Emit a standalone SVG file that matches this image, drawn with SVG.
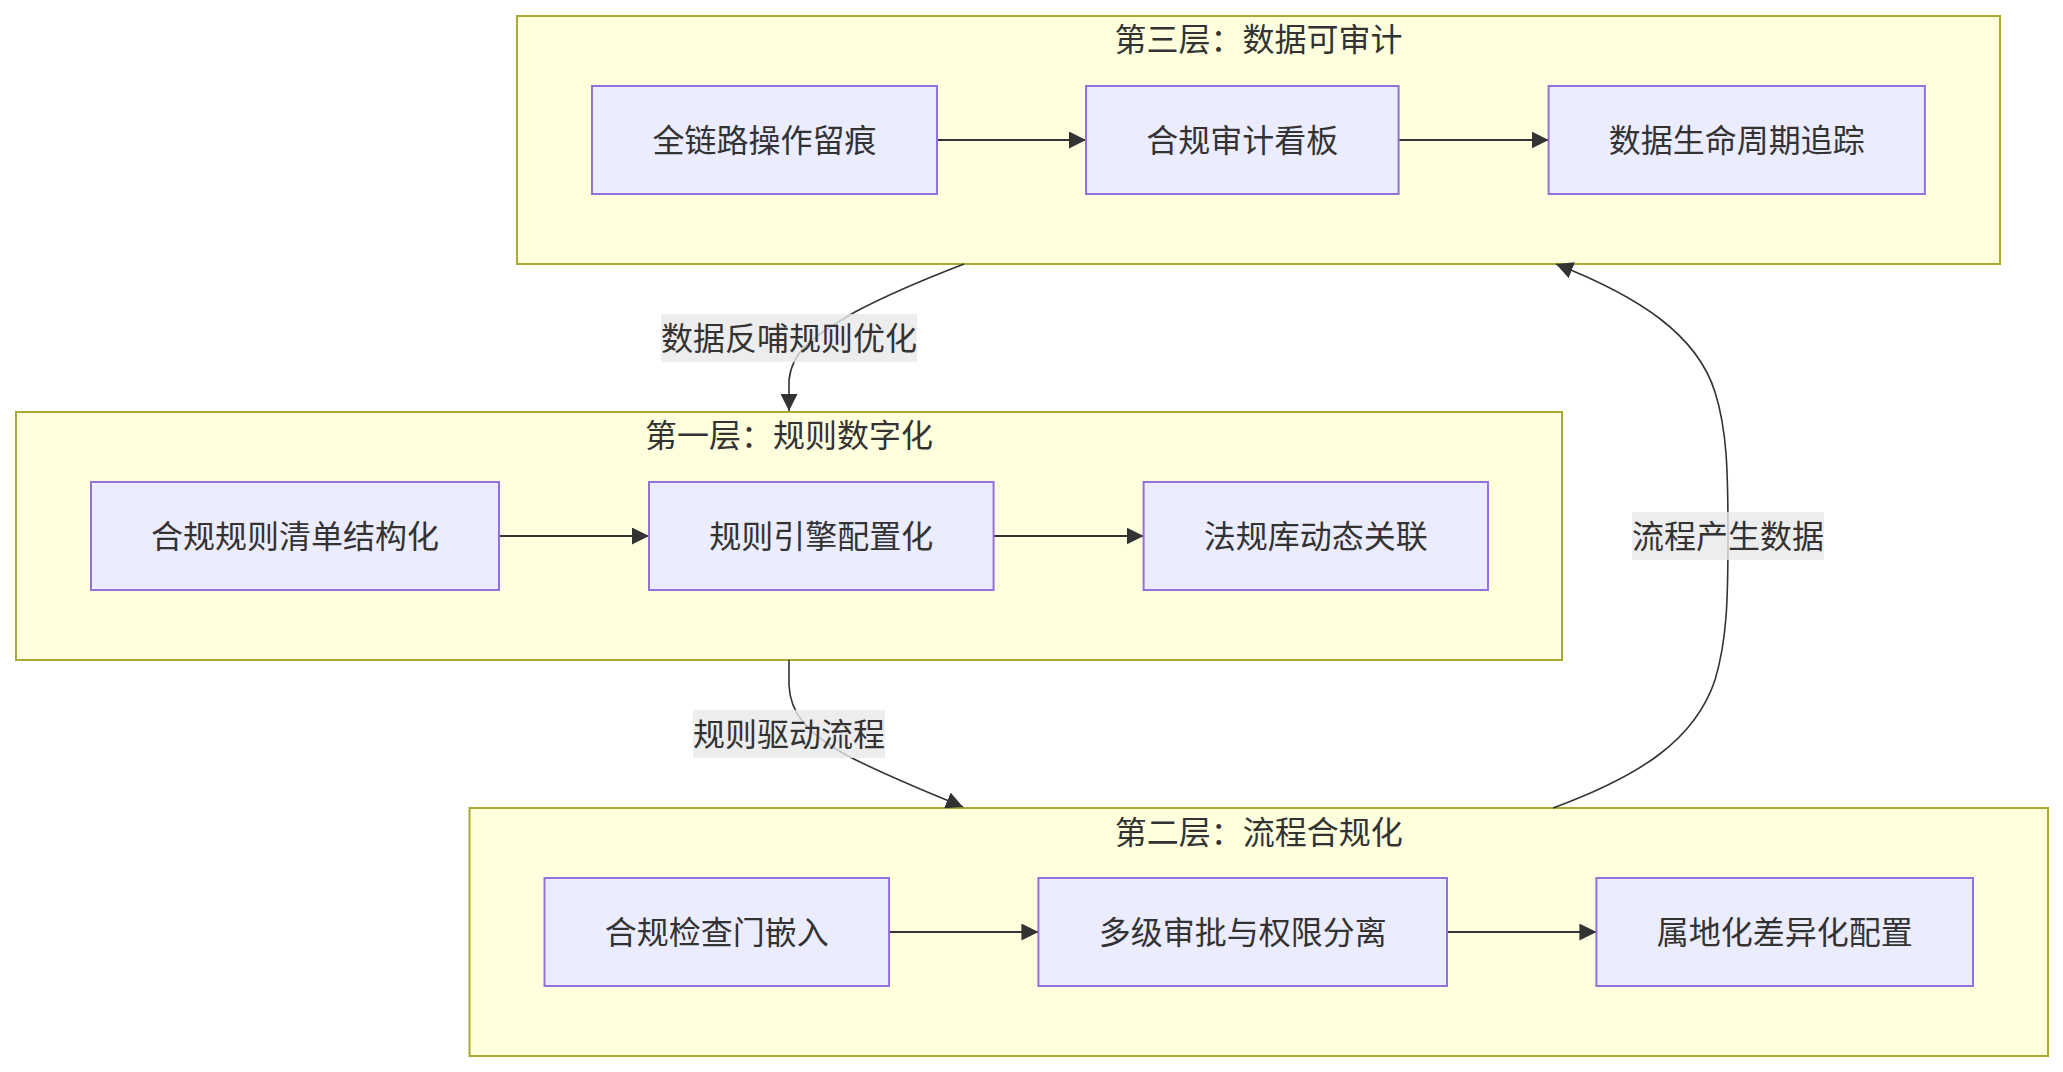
<svg xmlns="http://www.w3.org/2000/svg" width="2063" height="1072" viewBox="0 0 2063 1072">
<style>
  text { font-family: "Noto Sans CJK SC", "Liberation Sans", sans-serif; font-size: 32px; fill: #333333; text-anchor: middle; dominant-baseline: central; }
  .cluster rect { fill: #ffffde; stroke: #aaaa33; stroke-width: 2; }
  .node rect { fill: #ececff; stroke: #9370db; stroke-width: 2; }
  .edge { fill: none; stroke: #333333; stroke-width: 2; }
  .curve { fill: none; stroke: #333333; stroke-width: 1.6; }
  .lblbg { fill: #e8e8e8; fill-opacity: 0.8; }
</style>
<defs>
  <marker id="arrow" viewBox="0 0 10 10" refX="10" refY="5" markerUnits="userSpaceOnUse" markerWidth="17" markerHeight="17" orient="auto">
    <path d="M0,0 L10,5 L0,10 z" fill="#333333"/>
  </marker>
</defs>

<g id="cluster-layer3" class="cluster">
  <rect x="517" y="16" width="1483" height="248"/>
  <text x="1258.5" y="37">第三层：数据可审计</text>
</g>
<g id="cluster-layer1" class="cluster">
  <rect x="16" y="412" width="1546" height="248"/>
  <text x="789" y="433">第一层：规则数字化</text>
</g>
<g id="cluster-layer2" class="cluster">
  <rect x="469.5" y="808" width="1578.5" height="248"/>
  <text x="1258.8" y="830">第二层：流程合规化</text>
</g>

<g id="connectors">
  <line class="edge" x1="937" y1="140" x2="1086" y2="140" marker-end="url(#arrow)"/>
  <line class="edge" x1="1398.6" y1="140" x2="1548.6" y2="140" marker-end="url(#arrow)"/>
  <line class="edge" x1="499" y1="536" x2="649" y2="536" marker-end="url(#arrow)"/>
  <line class="edge" x1="993.6" y1="536" x2="1143.6" y2="536" marker-end="url(#arrow)"/>
  <line class="edge" x1="889.1" y1="932" x2="1038.4" y2="932" marker-end="url(#arrow)"/>
  <line class="edge" x1="1447" y1="932" x2="1596.4" y2="932" marker-end="url(#arrow)"/>
  <path class="curve" d="M964,264 C925,279 885,296 855,312 C810,338 792,352 789,380 L789,411" marker-end="url(#arrow)"/>
  <path class="curve" d="M789,660 L789,685 C790,712 805,733 850,757 C885,775 925,791 963,807" marker-end="url(#arrow)"/>
  <path class="curve" d="M1553,808 C1640,776 1695,740 1715,680 C1727,640 1728,600 1728,536 C1728,470 1727,430 1715,392 C1697,335 1640,297 1556,264" marker-end="url(#arrow)"/>
  <g id="label-feedback">
    <rect class="lblbg" x="661" y="314" width="256" height="48"/>
    <text x="789" y="336">数据反哺规则优化</text>
  </g>
  <g id="label-drive">
    <rect class="lblbg" x="693" y="710" width="192" height="48"/>
    <text x="789" y="732">规则驱动流程</text>
  </g>
  <g id="label-produce">
    <rect class="lblbg" x="1632" y="512" width="192" height="48"/>
    <text x="1728" y="534">流程产生数据</text>
  </g>
</g>

<g id="node-trace" class="node">
  <rect x="592" y="86" width="345" height="108"/>
  <text x="764.5" y="138">全链路操作留痕</text>
</g>
<g id="node-dashboard" class="node">
  <rect x="1086" y="86" width="312.6" height="108"/>
  <text x="1242.3" y="138">合规审计看板</text>
</g>
<g id="node-lifecycle" class="node">
  <rect x="1548.6" y="86" width="376.3" height="108"/>
  <text x="1736.8" y="138">数据生命周期追踪</text>
</g>

<g id="node-rulelist" class="node">
  <rect x="91" y="482" width="408" height="108"/>
  <text x="295" y="534">合规规则清单结构化</text>
</g>
<g id="node-engine" class="node">
  <rect x="649" y="482" width="344.6" height="108"/>
  <text x="821.3" y="534">规则引擎配置化</text>
</g>
<g id="node-lawlib" class="node">
  <rect x="1143.6" y="482" width="344.4" height="108"/>
  <text x="1315.8" y="534">法规库动态关联</text>
</g>

<g id="node-gate" class="node">
  <rect x="544.5" y="878" width="344.6" height="108"/>
  <text x="716.8" y="930">合规检查门嵌入</text>
</g>
<g id="node-approval" class="node">
  <rect x="1038.4" y="878" width="408.6" height="108"/>
  <text x="1242.7" y="930">多级审批与权限分离</text>
</g>
<g id="node-local" class="node">
  <rect x="1596.4" y="878" width="376.6" height="108"/>
  <text x="1784.7" y="930">属地化差异化配置</text>
</g>
</svg>
